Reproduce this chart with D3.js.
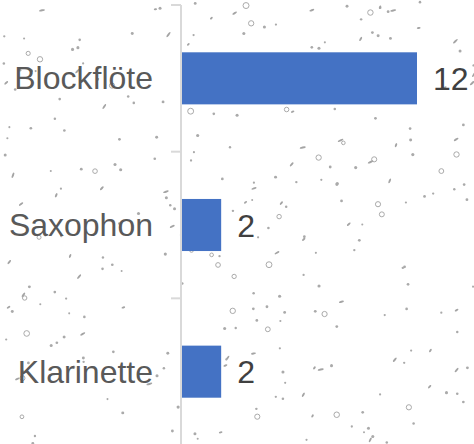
<!DOCTYPE html>
<html><head><meta charset="utf-8">
<script src="https://cdn.jsdelivr.net/npm/d3@7"></script>
<style>html,body{margin:0;padding:0;background:#fff;}svg{display:block;}</style>
</head><body>
<svg id="chart" width="474" height="444"></svg>
<script>
const categories = ["Blockflöte", "Saxophon", "Klarinette"];
const values = [12, 2, 2];

const W = 474, H = 444;
const svg = d3.select("#chart");

// background speckle texture (decorative, deterministic)
const rng = d3.randomLcg(0.4217);
const bg = svg.append("g");
for (let i = 0; i < 290; i++) {
  const x = rng() * W, y = rng() * H, t = rng();
  if (t < 0.12) {
    bg.append("circle").attr("cx", x).attr("cy", y).attr("r", 1.8 + rng() * 1.2)
      .attr("fill", "none").attr("stroke", "#aaaaaa").attr("stroke-width", 1);
  } else if (t < 0.4) {
    bg.append("ellipse").attr("cx", x).attr("cy", y)
      .attr("rx", 1.6 + rng() * 1.6).attr("ry", 1)
      .attr("transform", `rotate(${-70 + rng() * 60},${x},${y})`)
      .attr("fill", "#a4a4a4");
  } else {
    bg.append("circle").attr("cx", x).attr("cy", y).attr("r", 1 + rng() * 0.6)
      .attr("fill", "#aaaaaa");
  }
}

const y = d3.scaleBand().domain(categories).range([5, 445]);
const x = d3.scaleLinear().domain([0, 12]).range([182, 417]);
const barH = y.bandwidth() * 0.355;

// axis
const axis = svg.append("g").attr("transform", "translate(181,0)")
  .call(d3.axisLeft(y).tickSize(0).tickFormat(""));
axis.select(".domain").remove();
axis.append("line").attr("x1", 0).attr("x2", 0).attr("y1", 5).attr("y2", 445)
  .attr("stroke", "#d9d9d9").attr("stroke-width", 2);
const boundaries = [0, 1, 2, 3].map(i => 5 + i * y.step());
axis.selectAll(".bt").data(boundaries).enter().append("line")
  .attr("x1", -10).attr("x2", 0).attr("y1", d => d).attr("y2", d => d)
  .attr("stroke", "#d9d9d9").attr("stroke-width", 2);

// bars
svg.selectAll(".bar").data(categories).enter().append("rect")
  .attr("x", x(0))
  .attr("y", d => y(d) + (y.bandwidth() - barH) / 2)
  .attr("width", (d, i) => x(values[i]) - x(0))
  .attr("height", barH)
  .attr("fill", "#4472c4");

// category labels
svg.selectAll(".cat").data(categories).enter().append("text")
  .attr("x", 153).attr("y", d => y(d) + y.bandwidth() / 2 + 11)
  .attr("text-anchor", "end")
  .attr("font-family", "Liberation Sans, Arial, sans-serif")
  .attr("font-size", 32).attr("fill", "#595959")
  .text(d => d);

// value labels
svg.selectAll(".val").data(categories).enter().append("text")
  .attr("x", (d, i) => x(values[i]) + 16)
  .attr("y", d => y(d) + y.bandwidth() / 2 + 11.5)
  .attr("font-family", "Liberation Sans, Arial, sans-serif")
  .attr("font-size", 32).attr("fill", "#404040")
  .text((d, i) => values[i]);
</script>
</body></html>
